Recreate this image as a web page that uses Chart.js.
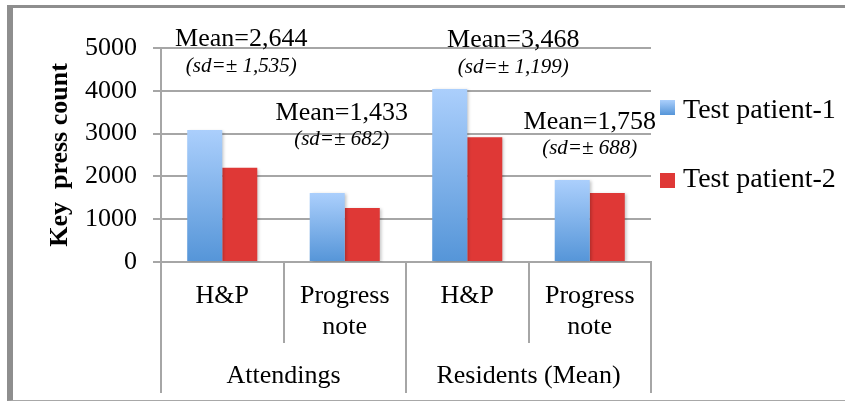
<!DOCTYPE html>
<html>
<head>
<meta charset="utf-8">
<script src="https://cdn.jsdelivr.net/npm/chart.js@4/dist/chart.umd.min.js"></script>
<style>
  html, body { margin: 0; padding: 0; background: #ffffff; }
  #wrap { position: relative; width: 845px; height: 402px; overflow: hidden; }
  #frame {
    position: absolute; left: 7px; top: 5px; width: 832px; height: 392px;
    border-left: 6px solid #8e8e8e; border-top: 3px solid #8e8e8e;
    border-bottom: 1px solid #a8a8a8;
  }
  #chart { position: absolute; left: 0; top: 0; }
</style>
</head>
<body>
<div id="wrap">
  <div id="frame"></div>
  <canvas id="chart" width="845" height="402"></canvas>
</div>
<script>
// Note types within each physician group
const categories = [['H&P'], ['Progress', 'note'], ['H&P'], ['Progress', 'note']];
const groups = ['Attendings', 'Residents (Mean)'];
const seriesNames = ['Test patient-1', 'Test patient-2'];
// Key press counts per note
const patient1 = [3085, 1610, 4040, 1915];
const patient2 = [2200, 1260, 2915, 1610];
// Summary statistics shown above each note type
const meanLabels = ['Mean=2,644', 'Mean=1,433', 'Mean=3,468', 'Mean=1,758'];
const sdLabels = ['(sd=\u00B1 1,535)', '(sd=\u00B1 682)', '(sd=\u00B1 1,199)', '(sd=\u00B1 688)'];
const yMax = 5000;
const yStep = 1000;

const SERIF = '"Liberation Serif", "Times New Roman", serif';
const GRID = '#a6a6a6';
const RED = '#df3836';

function blueGradient(ctx, top, bottom) {
  const g = ctx.createLinearGradient(0, top, 0, bottom);
  g.addColorStop(0, '#abcffc');
  g.addColorStop(1, '#5595d8');
  return g;
}

function blueFill(context) {
  const chart = context.chart;
  if (!chart.chartArea || context.type !== 'data') return '#7fb2ec';
  const y = chart.scales.y;
  const top = y.getPixelForValue(context.raw);
  const bottom = y.getPixelForValue(0);
  return blueGradient(chart.ctx, top, bottom);
}

// Soft drop shadow under the bars
const barShadow = {
  id: 'barShadow',
  beforeDatasetsDraw(chart) {
    const ctx = chart.ctx;
    ctx.save();
    ctx.shadowColor = 'rgba(0,0,0,0.22)';
    ctx.shadowBlur = 3;
    ctx.shadowOffsetX = 2;
    ctx.shadowOffsetY = 1;
  },
  afterDatasetsDraw(chart) {
    chart.ctx.restore();
  }
};

// Mean / sd captions, anchored to each category and a y value
const statLabels = {
  id: 'statLabels',
  afterDraw(chart, args, opts) {
    const ctx = chart.ctx;
    const x = chart.scales.x, y = chart.scales.y;
    ctx.save();
    ctx.fillStyle = '#000';
    ctx.textAlign = 'center';
    ctx.textBaseline = 'alphabetic';
    opts.place.forEach((p, i) => {
      const cx = x.getPixelForValue(i) + p.dx;
      ctx.font = '26px ' + SERIF;
      ctx.fillText(meanLabels[i], cx, y.getPixelForValue(p.mean));
      ctx.font = 'italic 21px ' + SERIF;
      ctx.fillText(sdLabels[i], cx, y.getPixelForValue(p.sd));
    });
    ctx.restore();
  }
};

// Legend on the right of the plot
const sideLegend = {
  id: 'sideLegend',
  afterDraw(chart, args, opts) {
    const ctx = chart.ctx;
    const area = chart.chartArea;
    ctx.save();
    ctx.font = '28px ' + SERIF;
    ctx.textBaseline = 'alphabetic';
    ctx.textAlign = 'left';
    chart.data.datasets.forEach((ds, i) => {
      const bx = area.right + opts.boxOffset;
      const by = opts.boxTops[i];
      ctx.fillStyle = i === 0 ? blueGradient(ctx, by, by + opts.box) : RED;
      ctx.fillRect(bx, by, opts.box, opts.box);
      ctx.fillStyle = '#000';
      ctx.fillText(ds.label, bx + opts.box + 8, opts.baselines[i]);
    });
    ctx.restore();
  }
};

new Chart(document.getElementById('chart'), {
  type: 'bar',
  data: {
    labels: categories,
    datasets: [
      { label: seriesNames[0], data: patient1, backgroundColor: blueFill, borderWidth: 0 },
      { label: seriesNames[1], data: patient2, backgroundColor: RED, borderWidth: 0 }
    ]
  },
  options: {
    responsive: false,
    devicePixelRatio: 1,
    animation: false,
    categoryPercentage: 0.572,
    barPercentage: 1.0,
    layout: { padding: { left: 41, top: 48, right: 194, bottom: 9 } },
    plugins: {
      legend: { display: false },
      tooltip: { enabled: false },
      statLabels: {
        place: [
          { dx: 19, mean: 5047, sd: 4439 },
          { dx: -3, mean: 3318, sd: 2734 },
          { dx: 46, mean: 5023, sd: 4416 },
          { dx: 0, mean: 3107, sd: 2523 }
        ]
      },
      sideLegend: { boxOffset: 9, box: 15, boxTops: [100, 173], baselines: [118, 187] }
    },
    scales: {
      y: {
        min: 0, max: yMax,
        ticks: { stepSize: yStep, padding: 16, color: '#000', font: { family: SERIF, size: 26 }, callback: (v) => String(v) },
        grid: { color: GRID, lineWidth: 2, tickLength: 8 },
        border: { color: GRID, width: 2 },
        title: { display: true, text: 'Key  press count', color: '#000', font: { family: SERIF, size: 26, weight: 'bold' }, padding: { top: 4, bottom: 4 } },
        afterFit(scale) { scale.width = 120; }
      },
      x: {
        offset: true,
        grid: { offset: true, drawOnChartArea: false, tickLength: 81, color: GRID, lineWidth: 2 },
        border: { color: GRID, width: 2 },
        ticks: { autoSkip: false, maxRotation: 0, padding: -62.6, color: '#000', font: { family: SERIF, size: 26, lineHeight: 1.2 } },
        afterFit(scale) { scale.height = 81; }
      },
      x2: {
        type: 'category',
        position: 'bottom',
        labels: groups,
        offset: true,
        grid: { offset: true, drawOnChartArea: false, tickLength: 50, color: GRID, lineWidth: 2 },
        border: { display: false },
        ticks: { autoSkip: false, maxRotation: 0, padding: -32.1, color: '#000', font: { family: SERIF, size: 26, lineHeight: 1.2 } },
        afterFit(scale) { scale.height = 50; }
      }
    }
  },
  plugins: [barShadow, statLabels, sideLegend]
});
</script>
</body>
</html>
